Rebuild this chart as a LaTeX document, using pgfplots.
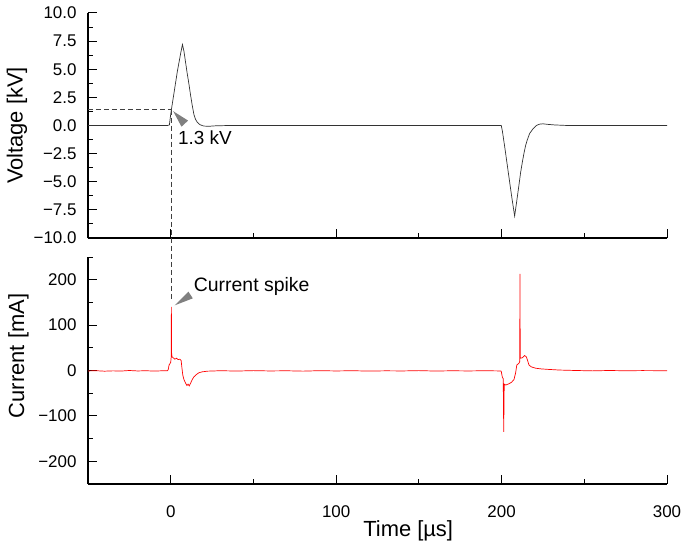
\documentclass[border=0pt]{standalone}
\usepackage{fontspec}
\setmainfont{Liberation Sans}
\usepackage{pgfplots}
\pgfplotsset{compat=1.18}
\pgfplotsset{
  myaxis/.style={
    scale only axis, width=579bp,
    xmin=-50, xmax=300,
    axis x line*=bottom, axis y line*=left,
    axis line style={line width=1.1bp, black, -},
    xtick={0,100,200,300}, minor xtick={-50,50,150,250},
    tick align=inside,
    major tick length=9bp, minor tick length=5bp,
    tick style={line width=1bp, black},
    tick label style={font=\fontsize{17}{20}\selectfont, inner sep=0pt},
    yticklabel style={xshift=-11.3bp},
    xticklabel style={yshift=-21.5bp},
    label style={font=\fontsize{22}{26}\selectfont, inner sep=0pt},
    /pgf/number format/assume math mode=true,
  }
}
\begin{document}
\begin{tikzpicture}
\useasboundingbox (-88bp,-313bp) rectangle (597bp,238bp);
% ---------------- Voltage ----------------
\begin{axis}[myaxis, name=top, at={(0,0)}, anchor=south west,
  height=225bp, ymin=-10, ymax=10,
  xticklabels={,,,},
  ytick={-10,-7.5,-5,-2.5,0,2.5,5,7.5,10},
  yticklabels={−10.0,−7.5,−5.0,−2.5,0.0,2.5,5.0,7.5,10.0},
  minor ytick={-8.75,-6.25,-3.75,-1.25,1.25,3.75,6.25,8.75},
  ylabel={Voltage [kV]},
  ylabel style={at={(axis description cs:-0.1128,0.5)}, anchor=base, rotate=0},
]
\addplot[color=black!80, line width=0.7bp] coordinates {
(-50,0) (-20,0) (-2,0) (-0.8,0.05) (0,1.0) (0.4,1.4) (2,2.9) (4,4.8) (6,6.4) (7.1,7.2)
(8,6.6) (9,5.6) (10,4.6) (11,3.7) (12,2.7) (13,1.8) (14,1.0) (15,0.55) (16,0.3)
(17,0.15) (18,0.05) (20,-0.05) (23,-0.07) (27,-0.03) (35,0) (100,0) (199.8,0)
(200.5,-0.5) (202,-2.0) (204,-4.1) (206,-6.2) (207.9,-8.05) (209,-6.9) (210.5,-5.3)
(211.5,-4.2) (212.5,-3.3) (213.5,-2.5) (214.5,-1.8) (215.5,-1.3) (217,-0.7) (219,-0.3) (221,0)
(223,0.12) (225,0.15) (228,0.1) (232,0.05) (240,0) (300,0)
};
\draw[black!75, line width=0.7bp, dash pattern=on 5bp off 3bp] (axis cs:-50,1.4) -- (axis cs:0.4,1.4);
\coordinate (A) at (axis cs:0.4,1.4);
\coordinate (T1) at (axis cs:1.5,1.27);
\node[anchor=base west, inner sep=0pt, font=\fontsize{19}{22}\selectfont] at (axis cs:4.4,-1.73) {1.3 kV};
\end{axis}
% ---------------- Current ----------------
\begin{axis}[myaxis, name=bot, at={(0,-19bp)}, anchor=north west,
  height=227bp, ymin=-250, ymax=250,
  ytick={-200,-100,0,100,200},
  yticklabels={−200,−100,0,100,200},
  minor ytick={-250,-150,-50,50,150,250},
  ylabel={Current [mA]},
  ylabel style={at={(axis description cs:-0.1105,0.564)}, anchor=base, rotate=0},
  xlabel={Time [µs]},
  xlabel style={at={(axis description cs:0.553,0)}, anchor=base, yshift=-53bp},
]
\addplot[color=red, line width=0.7bp] coordinates {
(-50,-1) (-45,-0.5) (-40,-1.5) (-35,-0.8) (-30,-1.2) (-25,0) (-20,-1) (-15,-0.5)
(-10,-1.3) (-5,-0.6) (-2,-0.5) (-1.5,2) (-1,12) (-0.3,16) (0,18) (0.3,30) (0.4,140)
(0.5,40) (0.8,30) (1.5,28) (2.5,25) (3.5,27) (4.5,24) (5.5,25) (6.3,22) (6.8,5)
(7.3,-10) (8,-20) (9,-28) (9.8,-33) (10.5,-30) (11.2,-34) (12,-28) (13,-20) (14,-14)
(15.5,-9) (17,-5) (19,-3) (22,-1.5) (26,-1) (30,-0.5) (40,-1.2) (50,-0.3) (60,-1)
(70,-0.6) (80,-1.4) (90,-0.4) (100,-1) (110,-0.5) (120,-1.3) (130,-0.7) (140,-1)
(150,-0.3) (160,-1.2) (170,-0.6) (180,-1) (190,-0.5) (199.5,-1)
(199.8,-2) (200.5,-15) (201,-18) (201.3,-135) (201.6,-30) (202.5,-32) (204,-30)
(206,-26) (207.5,-20) (208.5,-5) (209.2,12) (210.5,16) (211,20) (211.1,213)
(211.3,27) (212.5,28) (213.9,33) (215,30) (216.6,12) (218,8) (220.6,5) (224,3.5)
(228,2.5) (235,1) (245,0) (255,-0.8) (265,0) (275,-0.6) (285,-0.2) (300,-0.5)
};
\coordinate (B) at (axis cs:0.4,152);
\coordinate (T2) at (axis cs:2.4,143.5);
\node[anchor=base west, inner sep=0pt, font=\fontsize{19.5}{22}\selectfont] at (axis cs:13.9,173) {Current spike};
\end{axis}
\draw[black!75, line width=0.7bp, dash pattern=on 5bp off 3bp] (A) -- (B);
\fill[black!50, shift={(T1)}, rotate=-47] (0,0) -- (17bp,4.5bp) -- (17bp,-4.5bp) -- cycle;
\fill[black!50, shift={(T2)}, rotate=33] (0,0) -- (19bp,4bp) -- (19bp,-4bp) -- cycle;
\end{tikzpicture}
\end{document}
